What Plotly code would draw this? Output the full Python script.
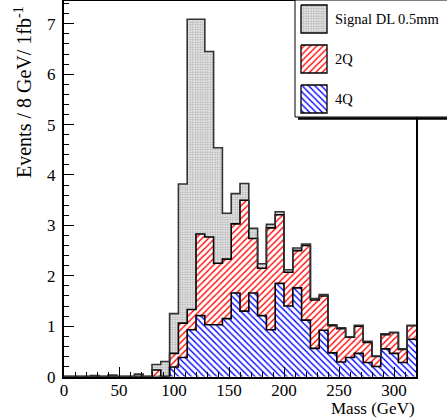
import numpy as np
import plotly.graph_objects as go

# ---------------- data (8 GeV bins, 0-320 GeV) ----------------
bin_width = 8
bin_edges = list(range(0, 321, bin_width))
x_ticks = [0, 50, 100, 150, 200, 250, 300]
y_ticks = [0, 1, 2, 3, 4, 5, 6, 7]

signal_dl = [0, 0, 0, 0.02, 0, 0.03, 0, 0, 0.05, 0,
             0.11, 0.30, 0.79, 2.76, 5.76, 4.26, 3.68, 2.29, 0.91, 0.60,
             0.33, 0.20, 0.09, 0.07, 0.06, 0.05, 0.05, 0.03, 0.03, 0.03,
             0.02, 0.02, 0.01, 0.02, 0.02, 0.01, 0.02, 0.01, 0.01, 0.01]
q2 = [0, 0, 0, 0, 0, 0, 0, 0, 0, 0,
      0.13, 0, 0.27, 0.68, 0.40, 1.62, 1.74, 1.22, 1.18, 1.37,
      2.20, 1.08, 0.94, 2.02, 1.36, 0.67, 0.74, 1.48, 0.96, 0.68,
      0.54, 0.66, 0.40, 0.54, 0.40, 0.20, 0.28, 0.41, 0.26, 0.27]
q4 = [0, 0, 0, 0, 0, 0, 0, 0, 0, 0,
      0, 0, 0.19, 0.38, 0.93, 1.21, 1.03, 1.03, 1.15, 1.66,
      1.30, 1.66, 1.21, 0.93, 1.85, 1.40, 1.76, 1.12, 0.56, 0.92,
      0.47, 0.29, 0.38, 0.46, 0.28, 0.20, 0.55, 0.46, 0.28, 0.74]

legend_labels = ["Signal DL 0.5mm", "2Q", "4Q"]

# ---------------- figure geometry ----------------
W, H = 447, 419
PL, PR, PT, PB = 64, 416, 1, 376.6
YMAX = 7.452

edges = np.array(bin_edges, dtype=float)
centers = (edges[:-1] + edges[1:]) / 2

serif = "Liberation Serif"

red_pat = dict(shape="/", fgcolor="#ff0000", bgcolor="white", size=4.5, solidity=0.3)
blue_pat = dict(shape="\\", fgcolor="#0000ff", bgcolor="white", size=4.5, solidity=0.3)
grey_pat = dict(shape=".", fgcolor="#a8a8a8", bgcolor="#e8e8e8", size=2.5, solidity=0.4)

fig = go.Figure()

for vals, pat in [(q4, blue_pat), (q2, red_pat), (signal_dl, grey_pat)]:
    fig.add_trace(go.Bar(x=centers, y=vals, width=bin_width,
                         marker=dict(pattern=pat, line=dict(width=0)),
                         showlegend=False, xaxis="x", yaxis="y"))

cum4 = np.array(q4)
cum2 = cum4 + np.array(q2)
cumS = cum2 + np.array(signal_dl)
for cum, col in [(cum4, "black"), (cum2, "black"), (cumS, "#333333")]:
    fig.add_trace(go.Scatter(x=edges, y=list(cum) + [cum[-1]], mode="lines",
                             line=dict(shape="hv", color=col, width=1.6),
                             showlegend=False, xaxis="x", yaxis="y",
                             hoverinfo="skip"))

# ---------------- legend (drawn in a pixel-coordinate overlay) ----------------
LX0, LX1, LY0, LY1 = 295, 460, 0, 117
fig.add_trace(go.Scatter(x=[LX0, LX1, LX1, LX0, LX0], y=[LY0, LY0, LY1, LY1, LY0],
                         fill="toself", fillcolor="white", mode="lines",
                         line=dict(color="black", width=1),
                         showlegend=False, xaxis="x2", yaxis="y2", hoverinfo="skip"))
fig.add_trace(go.Scatter(x=[298, 460], y=[118.5, 118.5], mode="lines",
                         line=dict(color="black", width=2.5),
                         showlegend=False, xaxis="x2", yaxis="y2", hoverinfo="skip"))
sw_x0, sw_x1 = 301, 327
sw_rows = [(5, 33), (45, 73), (85, 113)]
for (y0, y1), pat, lab in zip(sw_rows, [grey_pat, red_pat, blue_pat], legend_labels):
    fig.add_trace(go.Scatter(x=[sw_x0, sw_x1, sw_x1, sw_x0, sw_x0],
                             y=[y0, y0, y1, y1, y0],
                             fill="toself", fillpattern=pat, fillcolor=pat["bgcolor"],
                             mode="lines", line=dict(color="black", width=1.3),
                             showlegend=False, xaxis="x2", yaxis="y2", hoverinfo="skip"))
    fig.add_annotation(x=333, y=(y0 + y1) / 2, xref="x2", yref="y2", text=lab,
                       showarrow=False, xanchor="left", yanchor="middle",
                       font=dict(family=serif, size=14.5, color="black"))

# ---------------- axis titles ----------------
fig.add_annotation(x=417 / W, y=1 - 408 / H, xref="paper", yref="paper",
                   text="Mass (GeV)", showarrow=False, xanchor="right", yanchor="middle",
                   font=dict(family=serif, size=17, color="black"))
fig.add_annotation(x=23 / W, y=1 - 4 / H, xref="paper", yref="paper",
                   text="Events / 8 GeV/ 1fb<sup>-1</sup>", textangle=-90,
                   showarrow=False, xanchor="center", yanchor="top",
                   font=dict(family=serif, size=20, color="black"))

fig.update_layout(
    template="none",
    width=W, height=H,
    margin=dict(l=0, r=0, t=0, b=0, pad=0, autoexpand=False),
    paper_bgcolor="white", plot_bgcolor="rgba(0,0,0,0)",
    barmode="stack", bargap=0,
    showlegend=False,
    xaxis=dict(domain=[PL / W, PR / W], range=[0, 320], anchor="y", automargin=False,
               tickvals=x_ticks, ticks="inside", ticklen=10, tickcolor="black",
               minor=dict(ticks="inside", ticklen=5, dtick=10, tick0=0, tickcolor="black"),
               showline=True, linecolor="black", linewidth=2, mirror=True,
               showgrid=False, zeroline=False, ticklabelstandoff=-3,
               tickfont=dict(family=serif, size=17, color="black")),
    yaxis=dict(domain=[1 - PB / H, 1 - PT / H], range=[0, YMAX], anchor="x", automargin=False,
               tickvals=y_ticks, ticks="inside", ticklen=10, tickcolor="black",
               minor=dict(ticks="inside", ticklen=5, dtick=0.2, tick0=0, tickcolor="black"),
               showline=True, linecolor="black", linewidth=2, mirror=True,
               showgrid=False, zeroline=False, ticklabelstandoff=3,
               tickfont=dict(family=serif, size=17, color="black")),
    xaxis2=dict(domain=[0, 1], range=[0, W], anchor="y2", visible=False,
                fixedrange=True, automargin=False),
    yaxis2=dict(domain=[0, 1], range=[H, 0], anchor="x2", visible=False,
                fixedrange=True, automargin=False),
)

fig.write_html("out.html")
